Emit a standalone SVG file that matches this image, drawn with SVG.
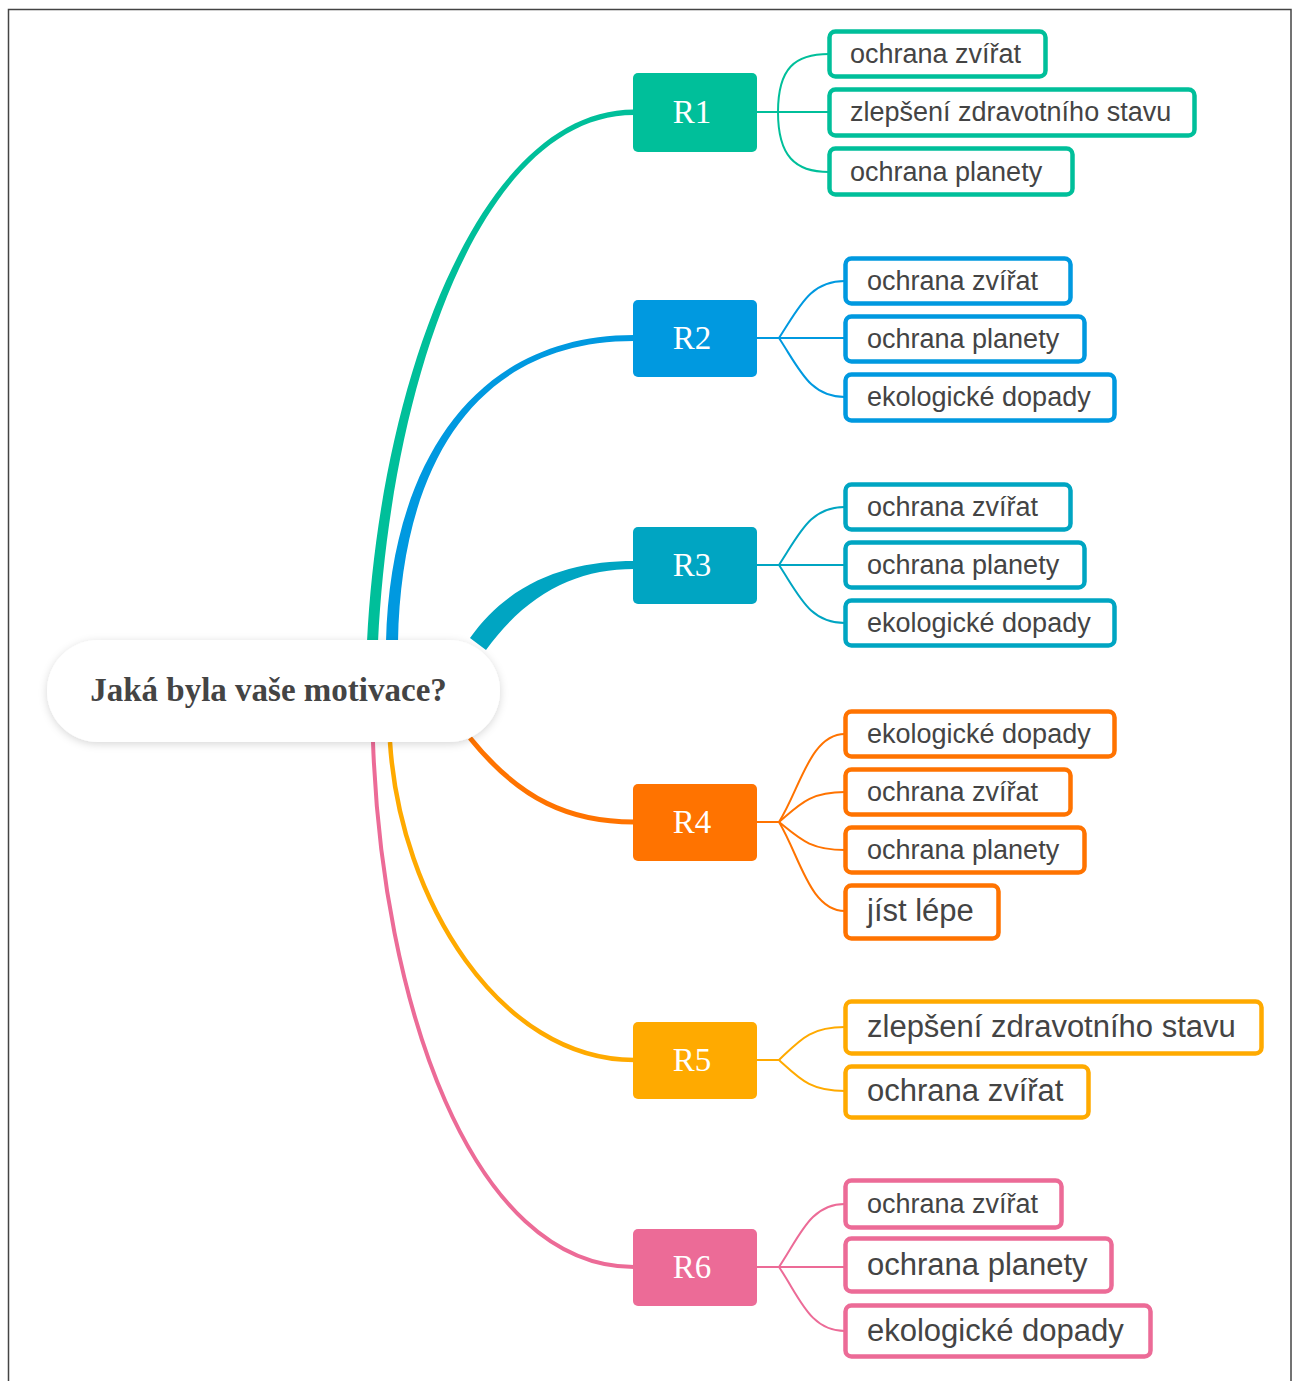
<svg xmlns="http://www.w3.org/2000/svg" width="1298" height="1381" viewBox="0 0 1298 1381">
  <defs>
    <filter id="soft" x="-10%" y="-30%" width="120%" height="160%">
      <feDropShadow dx="0" dy="2" stdDeviation="4" flood-color="#000" flood-opacity="0.16"/>
    </filter>
    <style>
      .frame { fill: none; stroke: #444; stroke-width: 1.5; }
      .root-box { fill: #fff; filter: url(#soft); }
      .root-text { font-family: "Liberation Serif", "Times New Roman", serif; font-weight: bold; font-size: 33px; fill: #444; }
      .topic-text { font-family: "Liberation Serif", "Times New Roman", serif; font-size: 33px; fill: #fff; }
      .leaf { fill: #fff; stroke-width: 4.5; }
      .leaf-text { font-family: "Liberation Sans", Arial, sans-serif; font-size: 27px; fill: #444; }
      .big { font-size: 31px; }
      .twig { fill: none; stroke-width: 2; }
      .c1 { stroke: #00BF9A; } .f1 { fill: #00BF9A; }
      .c2 { stroke: #0099E0; } .f2 { fill: #0099E0; }
      .c3 { stroke: #00A5C2; } .f3 { fill: #00A5C2; }
      .c4 { stroke: #FF7300; } .f4 { fill: #FF7300; }
      .c5 { stroke: #FFAA00; } .f5 { fill: #FFAA00; }
      .c6 { stroke: #EC6B97; } .f6 { fill: #EC6B97; }
    </style>
  </defs>

  <rect width="1298" height="1381" fill="#fff"/>
  <rect class="frame" x="8.5" y="9.5" width="1282.5" height="1400"/>

  <!-- connectors -->
  <g id="connectors">
    <!-- main branches (tapered) -->
    <path class="f1" d="M367,642 C380,380 480,109.5 634,109.5 L634,115 C482,115 391,380 378,642 Z"/>
    <path class="f2" d="M386,642 C390,470 470,335 634,335 L634,341 C472,341 401,470 398,642 Z"/>
    <path class="f3" d="M470,638 C512,578 575,561 634,561 L634,569 C578,569 528,592 486,650 Z"/>
    <path class="c4" fill="none" stroke-width="5" d="M470,738 C520,800 570,822 634,822"/>
    <path class="c5" fill="none" stroke-width="4.5" d="M390,742 C400,900 500,1060 634,1060"/>
    <path class="c6" fill="none" stroke-width="4" d="M373,742 C382,1000 470,1267 634,1267"/>

    <!-- R1 twigs -->
    <path class="twig c1" d="M757,112 H829"/>
    <path class="twig c1" d="M778,112 C778,68 795,54 829,54"/>
    <path class="twig c1" d="M778,112 C778,156 795,172 829,172"/>

    <!-- R2 twigs -->
    <path class="twig c2" d="M757,338 H845"/>
    <path class="twig c2" d="M779,338 C800,306 810,281 845,281"/>
    <path class="twig c2" d="M779,338 C800,370 810,397 845,397"/>

    <!-- R3 twigs -->
    <path class="twig c3" d="M757,565 H845"/>
    <path class="twig c3" d="M779,565 C800,533 810,507 845,507"/>
    <path class="twig c3" d="M779,565 C800,597 810,623 845,623"/>

    <!-- R4 twigs -->
    <path class="twig c4" d="M757,822 H779"/>
    <path class="twig c4" d="M779,822 C800,789 810,734 845,734"/>
    <path class="twig c4" d="M779,822 C800,804 810,792 845,792"/>
    <path class="twig c4" d="M779,822 C800,839 810,850 845,850"/>
    <path class="twig c4" d="M779,822 C800,857 810,911 845,911"/>

    <!-- R5 twigs -->
    <path class="twig c5" d="M757,1060 H779"/>
    <path class="twig c5" d="M779,1060 C800,1040 810,1027 845,1027"/>
    <path class="twig c5" d="M779,1060 C800,1079 810,1091 845,1091"/>

    <!-- R6 twigs -->
    <path class="twig c6" d="M757,1267 H845"/>
    <path class="twig c6" d="M779,1267 C800,1236 810,1204 845,1204"/>
    <path class="twig c6" d="M779,1267 C800,1298 810,1331 845,1331"/>
  </g>

  <!-- central question -->
  <g id="root">
    <rect class="root-box" x="47" y="640" width="453" height="102" rx="51"/>
    <text class="root-text" x="268.5" y="701" text-anchor="middle">Jaká byla vaše motivace?</text>
  </g>

  <!-- respondent nodes -->
  <g id="r1">
    <rect class="f1" x="633" y="73" width="124" height="79" rx="5"/>
    <text class="topic-text" x="692" y="123" text-anchor="middle">R1</text>
  </g>
  <g id="r2">
    <rect class="f2" x="633" y="300" width="124" height="77" rx="5"/>
    <text class="topic-text" x="692" y="349" text-anchor="middle">R2</text>
  </g>
  <g id="r3">
    <rect class="f3" x="633" y="527" width="124" height="77" rx="5"/>
    <text class="topic-text" x="692" y="576" text-anchor="middle">R3</text>
  </g>
  <g id="r4">
    <rect class="f4" x="633" y="784" width="124" height="77" rx="5"/>
    <text class="topic-text" x="692" y="833" text-anchor="middle">R4</text>
  </g>
  <g id="r5">
    <rect class="f5" x="633" y="1022" width="124" height="77" rx="5"/>
    <text class="topic-text" x="692" y="1071" text-anchor="middle">R5</text>
  </g>
  <g id="r6">
    <rect class="f6" x="633" y="1229" width="124" height="77" rx="5"/>
    <text class="topic-text" x="692" y="1278" text-anchor="middle">R6</text>
  </g>

  <!-- R1 answers -->
  <g id="r1-a1"><rect class="leaf c1" x="829.5" y="31.5" width="216" height="45" rx="6"/><text class="leaf-text" x="850" y="63">ochrana zvířat</text></g>
  <g id="r1-a2"><rect class="leaf c1" x="829.5" y="89.5" width="365" height="46" rx="6"/><text class="leaf-text" x="850" y="121">zlepšení zdravotního stavu</text></g>
  <g id="r1-a3"><rect class="leaf c1" x="829.5" y="148.5" width="243" height="46" rx="6"/><text class="leaf-text" x="850" y="181">ochrana planety</text></g>

  <!-- R2 answers -->
  <g id="r2-a1"><rect class="leaf c2" x="845.5" y="258.5" width="225" height="45" rx="6"/><text class="leaf-text" x="867" y="290">ochrana zvířat</text></g>
  <g id="r2-a2"><rect class="leaf c2" x="845.5" y="316.5" width="239" height="45" rx="6"/><text class="leaf-text" x="867" y="348">ochrana planety</text></g>
  <g id="r2-a3"><rect class="leaf c2" x="845.5" y="374.5" width="269" height="46" rx="6"/><text class="leaf-text" x="867" y="406">ekologické dopady</text></g>

  <!-- R3 answers -->
  <g id="r3-a1"><rect class="leaf c3" x="845.5" y="484.5" width="225" height="45" rx="6"/><text class="leaf-text" x="867" y="516">ochrana zvířat</text></g>
  <g id="r3-a2"><rect class="leaf c3" x="845.5" y="542.5" width="239" height="45" rx="6"/><text class="leaf-text" x="867" y="574">ochrana planety</text></g>
  <g id="r3-a3"><rect class="leaf c3" x="845.5" y="600.5" width="269" height="45" rx="6"/><text class="leaf-text" x="867" y="632">ekologické dopady</text></g>

  <!-- R4 answers -->
  <g id="r4-a1"><rect class="leaf c4" x="845.5" y="711.5" width="269" height="45" rx="6"/><text class="leaf-text" x="867" y="743">ekologické dopady</text></g>
  <g id="r4-a2"><rect class="leaf c4" x="845.5" y="769.5" width="225" height="45" rx="6"/><text class="leaf-text" x="867" y="801">ochrana zvířat</text></g>
  <g id="r4-a3"><rect class="leaf c4" x="845.5" y="827.5" width="239" height="45" rx="6"/><text class="leaf-text" x="867" y="859">ochrana planety</text></g>
  <g id="r4-a4"><rect class="leaf c4" x="845.5" y="885.5" width="153" height="53" rx="6"/><text class="leaf-text big" x="867" y="921">jíst lépe</text></g>

  <!-- R5 answers -->
  <g id="r5-a1"><rect class="leaf c5" x="845.5" y="1001.5" width="416" height="52" rx="6"/><text class="leaf-text big" x="867" y="1037">zlepšení zdravotního stavu</text></g>
  <g id="r5-a2"><rect class="leaf c5" x="845.5" y="1066.5" width="243" height="51" rx="6"/><text class="leaf-text big" x="867" y="1101">ochrana zvířat</text></g>

  <!-- R6 answers -->
  <g id="r6-a1"><rect class="leaf c6" x="845.5" y="1180.5" width="216" height="47" rx="6"/><text class="leaf-text" x="867" y="1213">ochrana zvířat</text></g>
  <g id="r6-a2"><rect class="leaf c6" x="845.5" y="1238.5" width="266" height="53" rx="6"/><text class="leaf-text big" x="867" y="1275">ochrana planety</text></g>
  <g id="r6-a3"><rect class="leaf c6" x="845.5" y="1305.5" width="305" height="51" rx="6"/><text class="leaf-text big" x="867" y="1341">ekologické dopady</text></g>
</svg>
